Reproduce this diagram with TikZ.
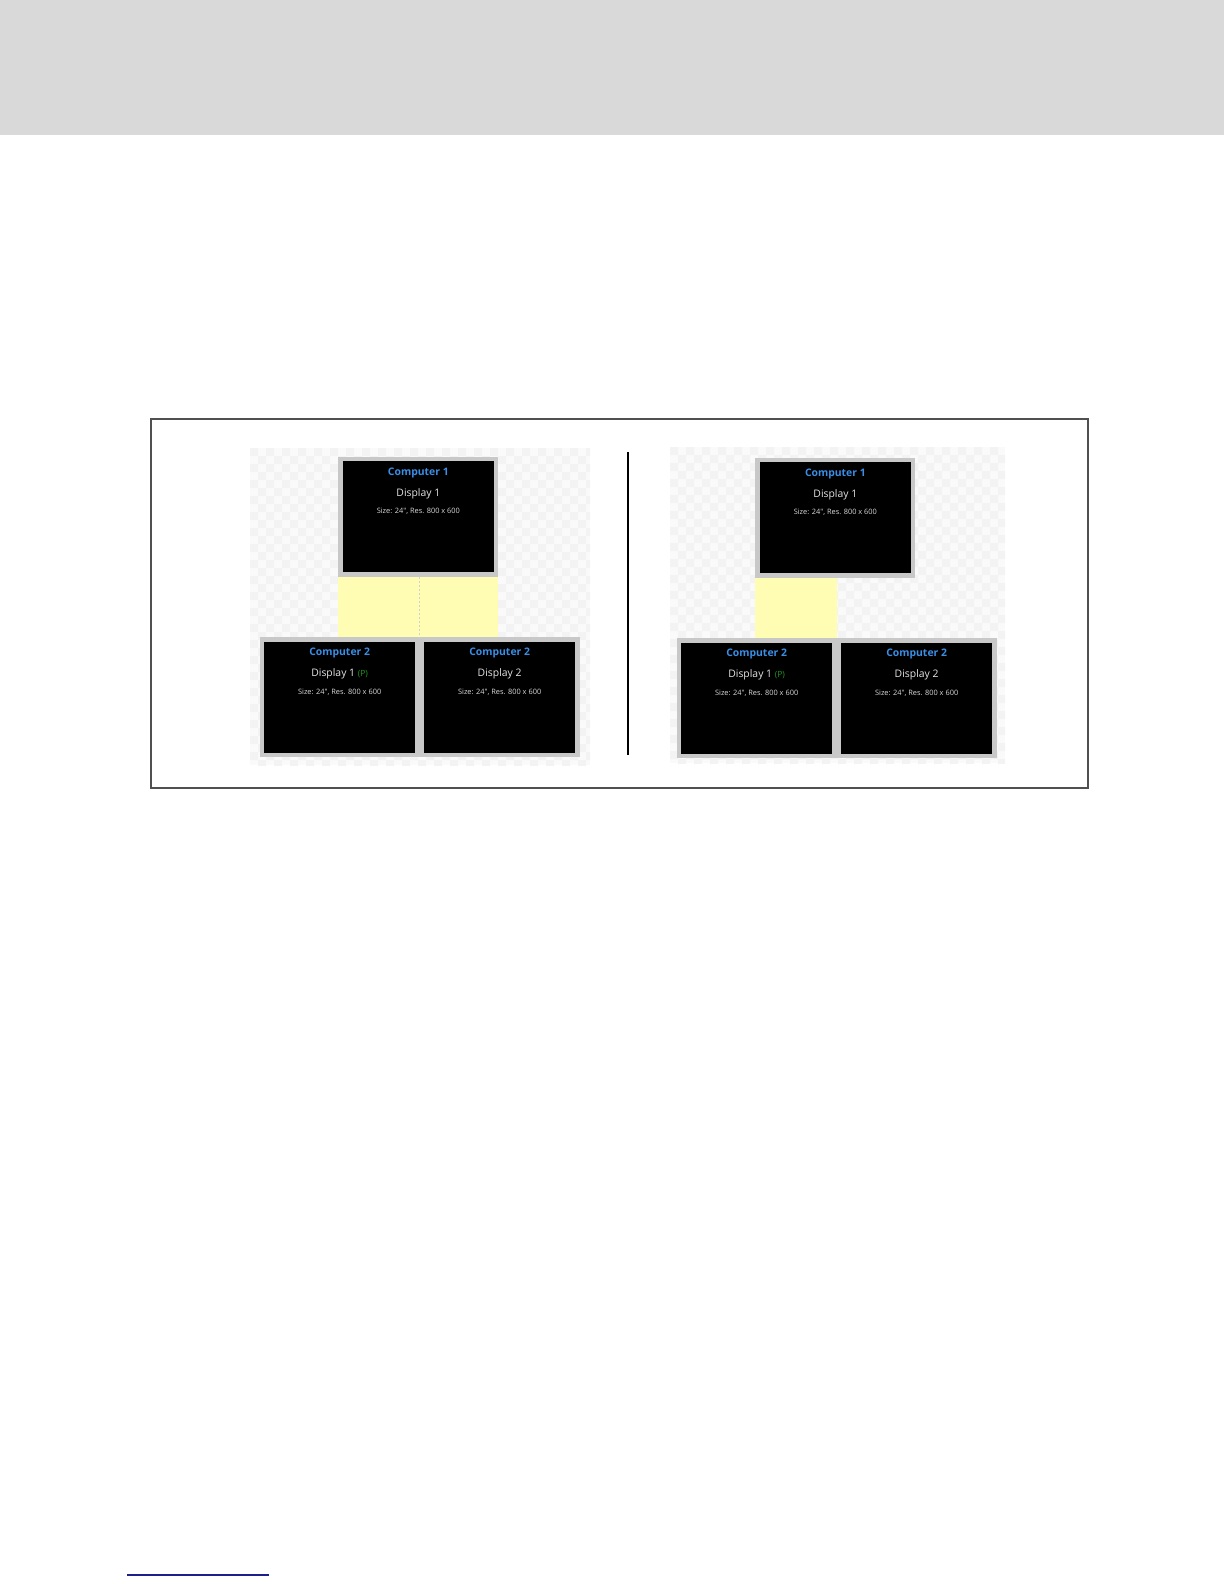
\documentclass[tikz,border=0pt]{standalone}
\usepackage{fontspec}
\newfontfamily\uifont{Open Sans}
\usepackage{tikz}
\usetikzlibrary{positioning}
\definecolor{header gray}{RGB}{217,217,217}
\definecolor{frame gray}{RGB}{80,80,80}
\definecolor{bezel gray}{RGB}{200,200,200}
\definecolor{checker gray}{RGB}{243,243,243}
\definecolor{gap yellow}{RGB}{255,252,180}
\definecolor{label blue}{RGB}{58,142,230}
\definecolor{primary green}{RGB}{30,150,30}
\definecolor{link blue}{RGB}{30,30,140}

\begin{document}
\begin{tikzpicture}[x=1pt, y=-1pt,
		display/.style = {fill=black, draw=bezel gray, line width=4.5pt, inner sep=0pt,
			minimum width=155.5pt, minimum height=115.5pt},
		computer/.style = {text=label blue, font=\uifont\bfseries\fontsize{10.4}{12}\selectfont},
		dispname/.style = {text=white!90!black, font=\uifont\fontsize{10.4}{12}\selectfont},
		dispinfo/.style = {text=white!85!black, font=\uifont\fontsize{7.4}{8}\selectfont}]
			\useasboundingbox (0, 0) rectangle (1224, 1584);
			\fill[white] (0, 0) rectangle (1224, 1584);
			% page header band
			\fill[header gray] (0, 0) rectangle (1224, 135);
			% checkered backgrounds
			\begin{scope}
				\clip (250, 448) rectangle (590, 765);
				\fill[white!60!checker gray] (250, 448) rectangle (590, 765);
				\foreach \x in {250, 266, ..., 590}
					\foreach \y in {448, 464, ..., 765}
						\fill[checker gray] (\x, \y) rectangle ++(8, 8)
							(\x + 8, \y + 8) rectangle ++(8, 8);
			\end{scope}
			\begin{scope}
				\clip (670, 447) rectangle (1005, 763);
				\fill[white!60!checker gray] (670, 447) rectangle (1005, 763);
				\foreach \x in {670, 686, ..., 1005}
					\foreach \y in {447, 463, ..., 763}
						\fill[checker gray] (\x, \y) rectangle ++(8, 8)
							(\x + 8, \y + 8) rectangle ++(8, 8);
			\end{scope}
			% left arrangement
			\node[display] (c1d1) at (418.35, 516.65) {};
			\node[display] (c2d1) at (339.65, 697.2) {};
			\node[display, right=0pt of c2d1] (c2d2) {};
			\fill[gap yellow] (c1d1.south west) rectangle (c1d1.south east |- c2d2.north);
			\draw[gray!35, line width=0.6pt, dash pattern=on 2pt off 2pt]
				(c2d1.north east |- c1d1.south) -- (c2d1.north east);
			\node[computer] (c1d1c) at (c1d1.north) [yshift=-16.8pt] {Computer 1};
			\node[dispname] (c1d1n) at (c1d1.north) [yshift=-37.5pt] {Display 1};
			\node[dispinfo] (c1d1i) at (c1d1.north) [yshift=-55pt] {Size: 24", Res. 800 x 600};
			\node[computer] (c2d1c) at (c2d1.north) [yshift=-16pt] {Computer 2};
			\node[dispname] (c2d1n) at (c2d1.north) [yshift=-37pt]
				{Display 1 {\color{primary green}\fontsize{8.5}{10}\selectfont(P)}};
			\node[dispinfo] (c2d1i) at (c2d1.north) [yshift=-55pt] {Size: 24", Res. 800 x 600};
			\node[computer] (c2d2c) at (c2d2.north) [yshift=-16pt] {Computer 2};
			\node[dispname] (c2d2n) at (c2d2.north) [yshift=-37pt] {Display 2};
			\node[dispinfo] (c2d2i) at (c2d2.north) [yshift=-55pt] {Size: 24", Res. 800 x 600};
			% separator
			\draw[black, line width=2pt] (628, 452) -- (628, 755);
			% right arrangement
			\begin{scope}[shift={(417, 1)}]
				\node[display] (r1d1) at (418.35, 516.65) {};
				\node[display] (r2d1) at (339.65, 697.2) {};
				\node[display, right=0pt of r2d1] (r2d2) {};
				\fill[gap yellow] (r1d1.south west) rectangle (r2d1.north east);
				\node[computer] (r1d1c) at (r1d1.north) [yshift=-16.8pt] {Computer 1};
				\node[dispname] (r1d1n) at (r1d1.north) [yshift=-37.5pt] {Display 1};
				\node[dispinfo] (r1d1i) at (r1d1.north) [yshift=-55pt] {Size: 24", Res. 800 x 600};
				\node[computer] (r2d1c) at (r2d1.north) [yshift=-16pt] {Computer 2};
				\node[dispname] (r2d1n) at (r2d1.north) [yshift=-37pt]
					{Display 1 {\color{primary green}\fontsize{8.5}{10}\selectfont(P)}};
				\node[dispinfo] (r2d1i) at (r2d1.north) [yshift=-55pt] {Size: 24", Res. 800 x 600};
				\node[computer] (r2d2c) at (r2d2.north) [yshift=-16pt] {Computer 2};
				\node[dispname] (r2d2n) at (r2d2.north) [yshift=-37pt] {Display 2};
				\node[dispinfo] (r2d2i) at (r2d2.north) [yshift=-55pt] {Size: 24", Res. 800 x 600};
			\end{scope}
			% outer frame
			\draw[frame gray, line width=1.5pt] (151, 419) rectangle (1088, 788);
			% footnote rule
			\draw[link blue, line width=1.2pt] (127, 1575) -- (269, 1575);
		\end{tikzpicture}
\end{document}
